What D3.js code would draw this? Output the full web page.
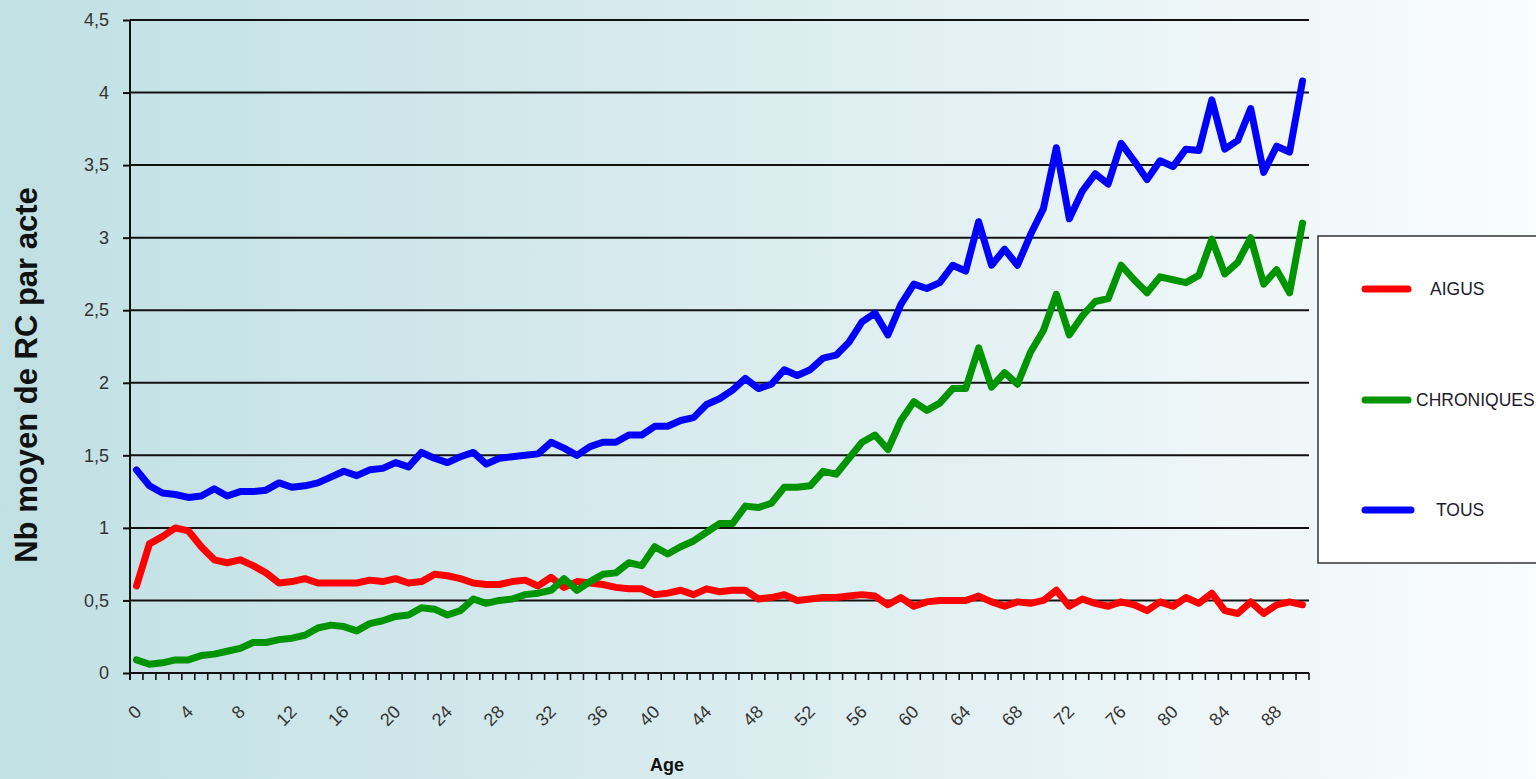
<!DOCTYPE html>
<html>
<head>
<meta charset="utf-8">
<script src="https://cdn.jsdelivr.net/npm/d3@7"></script>
<style>
  html, body { margin: 0; padding: 0; overflow: hidden; }
  svg { display: block; }
</style>
</head>
<body>
<svg id="chart" width="1536" height="779"></svg>
<script>
// ages 0..90
const ages = d3.range(0, 91);

const aigus = [
  0.60, 0.89, 0.94, 1.00, 0.98, 0.87, 0.78, 0.76, 0.78, 0.74,
  0.69, 0.62, 0.63, 0.65, 0.62, 0.62, 0.62, 0.62, 0.64, 0.63,
  0.65, 0.62, 0.63, 0.68, 0.67, 0.65, 0.62, 0.61, 0.61, 0.63,
  0.64, 0.60, 0.66, 0.59, 0.63, 0.62, 0.61, 0.59, 0.58, 0.58,
  0.54, 0.55, 0.57, 0.54, 0.58, 0.56, 0.57, 0.57, 0.51, 0.52,
  0.54, 0.50, 0.51, 0.52, 0.52, 0.53, 0.54, 0.53, 0.47, 0.52,
  0.46, 0.49, 0.50, 0.50, 0.50, 0.53, 0.49, 0.46, 0.49, 0.48,
  0.50, 0.57, 0.46, 0.51, 0.48, 0.46, 0.49, 0.47, 0.43, 0.49,
  0.46, 0.52, 0.48, 0.55, 0.43, 0.41, 0.49, 0.41, 0.47, 0.49,
  0.47
];

const chroniques = [
  0.09, 0.06, 0.07, 0.09, 0.09, 0.12, 0.13, 0.15, 0.17, 0.21,
  0.21, 0.23, 0.24, 0.26, 0.31, 0.33, 0.32, 0.29, 0.34, 0.36,
  0.39, 0.40, 0.45, 0.44, 0.40, 0.43, 0.51, 0.48, 0.50, 0.51,
  0.54, 0.55, 0.57, 0.65, 0.57, 0.63, 0.68, 0.69, 0.76, 0.74,
  0.87, 0.82, 0.87, 0.91, 0.97, 1.03, 1.03, 1.15, 1.14, 1.17,
  1.28, 1.28, 1.29, 1.39, 1.37, 1.48, 1.59, 1.64, 1.54, 1.74,
  1.87, 1.81, 1.86, 1.96, 1.96, 2.24, 1.97, 2.07, 1.99, 2.21,
  2.36, 2.61, 2.33, 2.46, 2.56, 2.58, 2.81, 2.71, 2.62, 2.73,
  2.71, 2.69, 2.74, 2.99, 2.75, 2.83, 3.00, 2.68, 2.78, 2.62,
  3.10
];

const tous = [
  1.40, 1.29, 1.24, 1.23, 1.21, 1.22, 1.27, 1.22, 1.25, 1.25,
  1.26, 1.31, 1.28, 1.29, 1.31, 1.35, 1.39, 1.36, 1.40, 1.41,
  1.45, 1.42, 1.52, 1.48, 1.45, 1.49, 1.52, 1.44, 1.48, 1.49,
  1.50, 1.51, 1.59, 1.55, 1.50, 1.56, 1.59, 1.59, 1.64, 1.64,
  1.70, 1.70, 1.74, 1.76, 1.85, 1.89, 1.95, 2.03, 1.96, 1.99,
  2.09, 2.05, 2.09, 2.17, 2.19, 2.28, 2.42, 2.48, 2.33, 2.54,
  2.68, 2.65, 2.69, 2.81, 2.77, 3.11, 2.81, 2.92, 2.81, 3.02,
  3.20, 3.62, 3.13, 3.32, 3.44, 3.37, 3.65, 3.53, 3.40, 3.53,
  3.49, 3.61, 3.60, 3.95, 3.61, 3.67, 3.89, 3.45, 3.63, 3.59,
  4.08
];

const yTicks = [0, 0.5, 1, 1.5, 2, 2.5, 3, 3.5, 4, 4.5];
const xLabelAges = ages.filter(a => a % 4 === 0 && a <= 88);

const seriesNames = ['AIGUS', 'CHRONIQUES', 'TOUS'];
const seriesColors = ['#ff0000', '#009400', '#0000ff'];
const seriesData = [aigus, chroniques, tous];

const svg = d3.select('#chart');
const W = 1536, H = 779;
const plot = { left: 130, right: 1309, top: 20, bottom: 673 };
const FONT = 'Liberation Sans, Arial, sans-serif';

// background gradient
const defs = svg.append('defs');
const grad = defs.append('linearGradient')
    .attr('id', 'bg')
    .attr('x1', '0%').attr('x2', '100%')
    .attr('y1', '0%').attr('y2', '0%');
grad.append('stop').attr('offset', '0%').attr('stop-color', '#c1e0e4');
grad.append('stop').attr('offset', '45%').attr('stop-color', '#d8ebee');
grad.append('stop').attr('offset', '100%').attr('stop-color', '#fafcfd');
svg.append('rect').attr('width', W).attr('height', H).attr('fill', 'url(#bg)');

const x = d3.scaleBand().domain(ages).range([plot.left, plot.right]).padding(0);
const y = d3.scaleLinear().domain([0, 4.5]).range([plot.bottom, plot.top]);

// gridlines
svg.append('g').selectAll('line')
    .data(yTicks.filter(d => d > 0))
    .join('line')
    .attr('x1', plot.left).attr('x2', plot.right)
    .attr('y1', d => y(d)).attr('y2', d => y(d))
    .attr('stroke', '#111').attr('stroke-width', 2);

// y axis
const fmt = d => d3.format('.1~f')(d).replace('.', ',');
const yAxis = svg.append('g')
    .attr('transform', `translate(${plot.left},0)`)
    .call(d3.axisLeft(y).tickValues(yTicks).tickFormat(fmt).tickSize(7).tickPadding(14));
yAxis.select('.domain').attr('stroke', '#111').attr('stroke-width', 2)
    .attr('d', `M0,${plot.top}V${plot.bottom + 7}`);
yAxis.selectAll('.tick line').attr('stroke', '#111').attr('stroke-width', 2);
yAxis.selectAll('.tick text')
    .attr('font-family', FONT)
    .attr('font-size', 18).attr('fill', '#333');

// x axis line + tick marks between categories
const xg = svg.append('g');
xg.append('line')
    .attr('x1', plot.left).attr('x2', plot.right)
    .attr('y1', plot.bottom).attr('y2', plot.bottom)
    .attr('stroke', '#111').attr('stroke-width', 2);
const edges = ages.map(a => x(a)).concat([x(ages[ages.length - 1]) + x.bandwidth()]);
xg.selectAll('line.tk')
    .data(edges)
    .join('line')
    .attr('class', 'tk')
    .attr('x1', d => d).attr('x2', d => d)
    .attr('y1', plot.bottom).attr('y2', plot.bottom + 7)
    .attr('stroke', '#111').attr('stroke-width', 1.6);

// x labels, rotated
xg.selectAll('text.xl')
    .data(xLabelAges)
    .join('text')
    .attr('class', 'xl')
    .attr('transform', d => `translate(${x(d) + x.bandwidth() / 2 + 6},${plot.bottom + 40}) rotate(-45)`)
    .attr('text-anchor', 'end')
    .attr('font-family', FONT)
    .attr('font-size', 18).attr('fill', '#333')
    .text(d => d);

// axis titles
svg.append('text')
    .attr('transform', `translate(37,375) rotate(-90)`)
    .attr('text-anchor', 'middle')
    .attr('font-family', FONT)
    .attr('font-weight', 'bold').attr('font-size', 31).attr('fill', '#111')
    .text('Nb moyen de RC par acte');

svg.append('text')
    .attr('x', 667).attr('y', 771)
    .attr('text-anchor', 'middle')
    .attr('font-family', FONT)
    .attr('font-weight', 'bold').attr('font-size', 18).attr('fill', '#111')
    .text('Age');

// series lines
const line = d3.line()
    .x((d, i) => x(ages[i]) + x.bandwidth() / 2)
    .y(d => y(d));

svg.append('g').selectAll('path')
    .data(seriesData)
    .join('path')
    .attr('d', d => line(d))
    .attr('fill', 'none')
    .attr('stroke', (d, i) => seriesColors[i])
    .attr('stroke-width', 7)
    .attr('stroke-linejoin', 'round')
    .attr('stroke-linecap', 'round');

// legend
const lg = svg.append('g');
lg.append('rect')
    .attr('x', 1318).attr('y', 236).attr('width', 260).attr('height', 327)
    .attr('fill', '#fff').attr('stroke', '#333').attr('stroke-width', 1.5);
const legendY = [289, 400, 510];
const legendTextX = [1430, 1416, 1436];
seriesNames.forEach((name, i) => {
    lg.append('line')
        .attr('x1', 1365).attr('x2', i === 2 ? 1411 : 1408)
        .attr('y1', legendY[i]).attr('y2', legendY[i])
        .attr('stroke', seriesColors[i]).attr('stroke-width', 7)
        .attr('stroke-linecap', 'round');
    lg.append('text')
        .attr('x', legendTextX[i]).attr('y', legendY[i] + 6)
        .attr('font-family', FONT)
        .attr('font-size', 17.5).attr('fill', '#1c1c2c')
        .text(name);
});
</script>
</body>
</html>
